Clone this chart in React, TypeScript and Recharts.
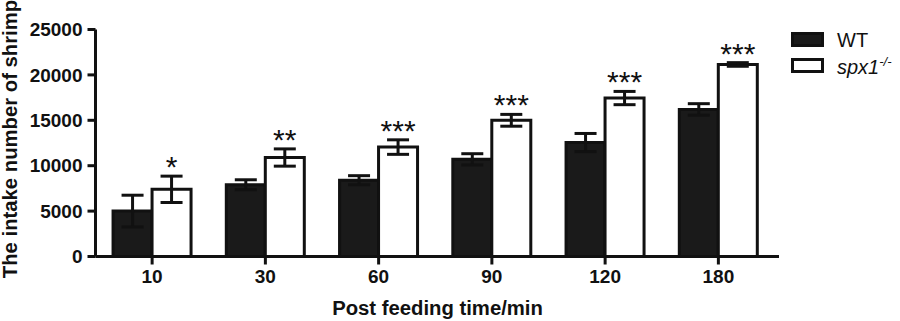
import React from "react";
import {
  BarChart,
  Bar,
  XAxis,
  YAxis,
  ErrorBar,
  LabelList,
} from "recharts";

// ── Data ────────────────────────────────────────────────────────────────────

const categories = ["10", "30", "60", "90", "120", "180"];
const wtMeans = [5000, 7900, 8400, 10700, 12550, 16200];
const wtErrors = [1750, 550, 500, 620, 1000, 630];
const spxMeans = [7400, 10900, 12050, 15000, 17450, 21150];
const spxErrors = [1450, 950, 800, 650, 730, 200];
const significance = ["*", "**", "***", "***", "***", "***"];
const yTicks = [0, 5000, 10000, 15000, 20000, 25000];

const data = categories.map((c, i) => ({
  time: c,
  wt: wtMeans[i],
  wtErr: wtErrors[i],
  spx: spxMeans[i],
  spxErr: spxErrors[i],
  sig: significance[i],
}));

const FONT = '"Liberation Sans", Arial, sans-serif';
const INK = "#111";
const tickStyle = { fontFamily: FONT, fontSize: 19, fontWeight: 700, fill: INK };
const titleStyle = { fontFamily: FONT, fontSize: 20.3, fontWeight: 700, fill: INK };

// ── Pieces ──────────────────────────────────────────────────────────────────

function StarLabel(props: any) {
  const { x, y, width, height, index } = props;
  const i = index ?? 0;
  const errPx = height * (spxErrors[i] / spxMeans[i]);
  return (
    <text
      x={x + width / 2}
      y={y - errPx + 1}
      textAnchor="middle"
      fontFamily={FONT}
      fontSize={30}
      fill={INK}
    >
      {significance[i]}
    </text>
  );
}

function Titles() {
  return (
    <svg
      width={900}
      height={321}
      style={{ position: "absolute", left: 0, top: 0, pointerEvents: "none" }}
    >
      <text x={17} y={139} transform="rotate(-90, 17, 139)" textAnchor="middle" {...titleStyle}>
        The intake number of shrimp
      </text>
      <text x={437.5} y={314.5} textAnchor="middle" {...titleStyle}>
        Post feeding time/min
      </text>
    </svg>
  );
}

function LegendBox() {
  const row: React.CSSProperties = {
    display: "flex",
    alignItems: "center",
    height: 26,
    fontFamily: FONT,
    fontSize: 20,
    color: INK,
  };
  return (
    <div style={{ position: "absolute", left: 791, top: 27 }}>
      <div style={row}>
        <svg width={34} height={16} style={{ marginRight: 12 }}>
          <rect x={1.5} y={1.5} width={30} height={12} fill="#1a1a1a" stroke={INK} strokeWidth={3} />
        </svg>
        <span>WT</span>
      </div>
      <div style={row}>
        <svg width={34} height={16} style={{ marginRight: 12 }}>
          <rect x={1.5} y={1.5} width={30} height={12} fill="#fff" stroke={INK} strokeWidth={3} />
        </svg>
        <span style={{ fontStyle: "italic" }}>
          spx1<sup style={{ fontSize: 13 }}>-/-</sup>
        </span>
      </div>
    </div>
  );
}

// ── Chart ───────────────────────────────────────────────────────────────────

export default function App() {
  return (
    <div style={{ position: "absolute", left: 0, top: 0, width: 900, height: 321, background: "#fff" }}>
      <BarChart
        width={900}
        height={321}
        data={data}
        margin={{ top: 29.5, right: 121, bottom: 0, left: 0 }}
        barCategoryGap="15.5%"
        barGap={0}
      >
        <XAxis
          dataKey="time"
          height={64.5}
          padding={{ left: 0, right: 4 }}
          axisLine={{ stroke: INK, strokeWidth: 3 }}
          tickLine={{ stroke: INK, strokeWidth: 3 }}
          tickSize={8}
          tickMargin={5}
          tick={tickStyle}
        />
        <YAxis
          width={95.5}
          domain={[0, 25000]}
          ticks={yTicks}
          interval={0}
          axisLine={{ stroke: INK, strokeWidth: 3 }}
          tickLine={{ stroke: INK, strokeWidth: 3 }}
          tickSize={8}
          tickMargin={5}
          tick={tickStyle}
        />
        <Bar dataKey="wt" fill="#1a1a1a" stroke={INK} strokeWidth={3} isAnimationActive={false}>
          <ErrorBar dataKey="wtErr" stroke={INK} strokeWidth={3} width={11} isAnimationActive={false} />
        </Bar>
        <Bar dataKey="spx" fill="#fff" stroke={INK} strokeWidth={3} isAnimationActive={false}>
          <ErrorBar dataKey="spxErr" stroke={INK} strokeWidth={3} width={11} isAnimationActive={false} />
          <LabelList dataKey="sig" content={<StarLabel />} />
        </Bar>
      </BarChart>
      <Titles />
      <LegendBox />
    </div>
  );
}
